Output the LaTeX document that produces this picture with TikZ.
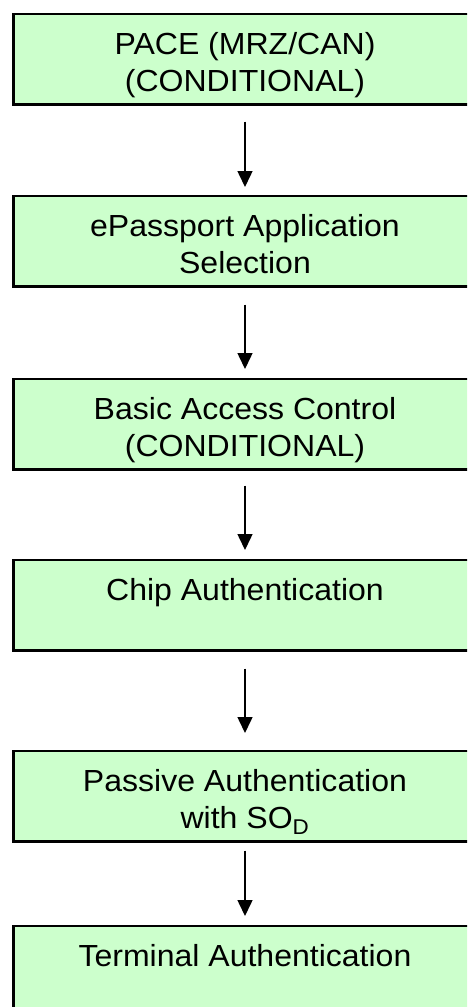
\documentclass[tikz,border=0pt]{standalone}
\usepackage{fontspec}
\setmainfont{Liberation Sans}[FakeStretch=1.05]
\usetikzlibrary{arrows.meta}
\definecolor{boxgreen}{RGB}{204,255,204}
\newcommand{\boxtxt}[1]{\parbox[c][90pt][t]{440pt}{\centering\fontsize{30.5}{36.7}\selectfont\rule{0pt}{40.5pt}#1}}
\tikzset{
  stepbox/.style={draw=black, line width=2.5pt, fill=boxgreen, rectangle, inner sep=0pt,
    minimum width=463pt, minimum height=90.5pt, anchor=north},
  flowarrow/.style={draw=black, line width=1.5pt, -{Triangle[width=15pt,length=16pt]}}
}
\begin{document}
\begin{tikzpicture}[x=1pt,y=1pt]
\path[use as bounding box] (0,0) rectangle (467,-1007);
\clip (0,0) rectangle (467,-1007);
\node[stepbox] (b1) at (245,-12.5) {\boxtxt{PACE (MRZ/CAN)\\(CONDITIONAL)}};
\node[stepbox] (b2) at (245,-194.5) {\boxtxt{ePassport Application\\Selection}};
\node[stepbox] (b3) at (245,-377.5) {\boxtxt{Basic Access Control\\(CONDITIONAL)}};
\node[stepbox] (b4) at (245,-558.5) {\boxtxt{Chip Authentication}};
\node[stepbox] (b5) at (245,-749.5) {\boxtxt{Passive Authentication\\with SO\textsubscript{D}}};
\node[stepbox] (b6) at (245,-924.5) {\boxtxt{Terminal Authentication}};
\draw[flowarrow, shorten <=16pt, shorten >=7.5pt] (b1.south) -- (b2.north);
\draw[flowarrow, shorten <=17pt, shorten >=8.5pt] (b2.south) -- (b3.north);
\draw[flowarrow, shorten <=15pt, shorten >=8.5pt] (b3.south) -- (b4.north);
\draw[flowarrow, shorten <=17pt, shorten >=16.5pt] (b4.south) -- (b5.north);
\draw[flowarrow, shorten <=8pt, shorten >=8.5pt] (b5.south) -- (b6.north);
\end{tikzpicture}
\end{document}
